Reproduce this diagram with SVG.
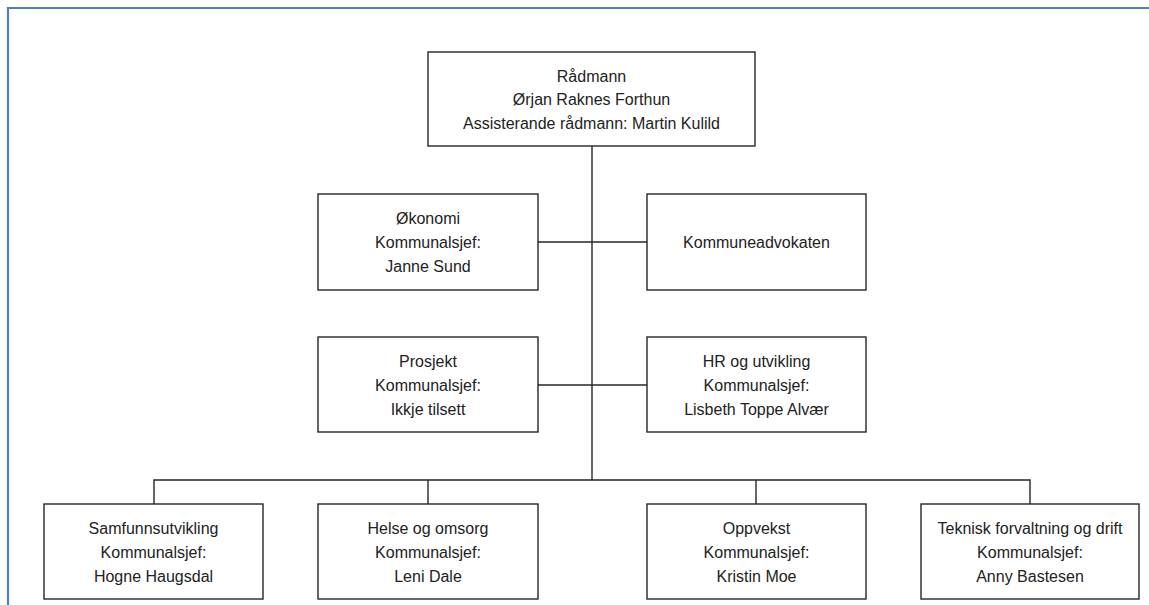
<svg xmlns="http://www.w3.org/2000/svg" width="1149" height="605" viewBox="0 0 1149 605">
<style>
.box{fill:#fff;stroke:#262626;stroke-width:1.4}
.ln{fill:none;stroke:#262626;stroke-width:1.4}
text{font-family:"Liberation Sans",Arial,sans-serif;font-size:16px;fill:#222;text-anchor:middle}
</style>
<rect width="1149" height="605" fill="#fff"/>
<path d="M8 605 V8 H1149" fill="none" stroke="#4f81bd" stroke-width="2.2"/>
<g id="connectors">
<path class="ln" d="M592 146 V480"/>
<path class="ln" d="M538 242 H647"/>
<path class="ln" d="M538 385 H647"/>
<path class="ln" d="M154 504 V480 H1030 V504"/>
<path class="ln" d="M428 480 V504"/>
<path class="ln" d="M756 480 V504"/>
</g>
<g id="radmann">
<rect class="box" x="428" y="52" width="327" height="94"/>
<text x="591.5" y="81.5">Rådmann</text>
<text x="591.5" y="104.5">Ørjan Raknes Forthun</text>
<text x="591.5" y="128.5">Assisterande rådmann: Martin Kulild</text>
</g>
<g id="okonomi">
<rect class="box" x="318" y="194" width="220" height="96"/>
<text x="428" y="223.5">Økonomi</text>
<text x="428" y="247.5">Kommunalsjef:</text>
<text x="428" y="271.5">Janne Sund</text>
</g>
<g id="kommuneadvokaten">
<rect class="box" x="647" y="194" width="219" height="96"/>
<text x="756.5" y="247.5">Kommuneadvokaten</text>
</g>
<g id="prosjekt">
<rect class="box" x="318" y="337" width="220" height="95"/>
<text x="428" y="366.5">Prosjekt</text>
<text x="428" y="390.5">Kommunalsjef:</text>
<text x="428" y="414.5">Ikkje tilsett</text>
</g>
<g id="hr">
<rect class="box" x="647" y="337" width="219" height="95"/>
<text x="756.5" y="366.5">HR og utvikling</text>
<text x="756.5" y="390.5">Kommunalsjef:</text>
<text x="756.5" y="414.5">Lisbeth Toppe Alvær</text>
</g>
<g id="samfunnsutvikling">
<rect class="box" x="44" y="504" width="219" height="95"/>
<text x="153.5" y="533.5">Samfunnsutvikling</text>
<text x="153.5" y="557.5">Kommunalsjef:</text>
<text x="153.5" y="581.5">Hogne Haugsdal</text>
</g>
<g id="helse">
<rect class="box" x="318" y="504" width="220" height="95"/>
<text x="428" y="533.5">Helse og omsorg</text>
<text x="428" y="557.5">Kommunalsjef:</text>
<text x="428" y="581.5">Leni Dale</text>
</g>
<g id="oppvekst">
<rect class="box" x="647" y="504" width="219" height="95"/>
<text x="756.5" y="533.5">Oppvekst</text>
<text x="756.5" y="557.5">Kommunalsjef:</text>
<text x="756.5" y="581.5">Kristin Moe</text>
</g>
<g id="teknisk">
<rect class="box" x="921" y="504" width="218" height="95"/>
<text x="1030" y="533.5">Teknisk forvaltning og drift</text>
<text x="1030" y="557.5">Kommunalsjef:</text>
<text x="1030" y="581.5">Anny Bastesen</text>
</g>
</svg>
